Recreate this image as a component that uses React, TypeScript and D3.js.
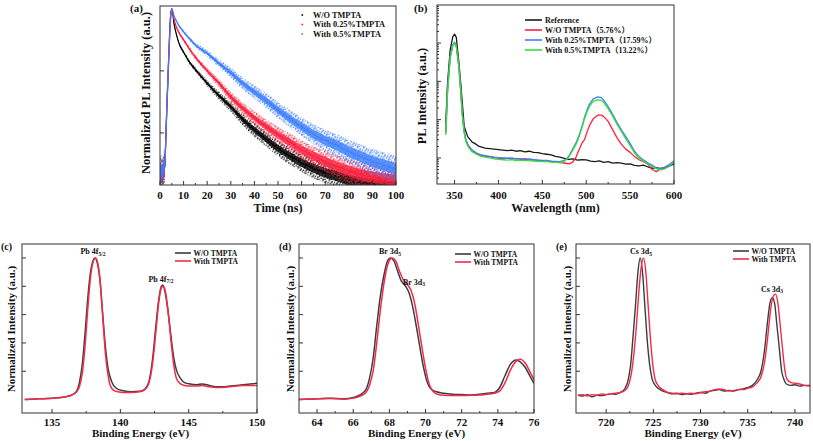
import React from "react";
import * as d3 from "d3";

// ---------------- (a) time-resolved PL decay (normalized) ----------------
const decayTimes = [0, 1, 1.5, 2, 2.3, 2.6, 3, 3.5, 4, 4.5, 5, 6, 7, 8, 10, 12, 15, 20, 25, 30, 35, 40, 45, 50, 55, 60, 65, 70, 75, 80, 85, 90, 95, 100];
const decayWO = [0.00224, 0.002, 0.00251, 0.00282, 0.00501, 0.0112, 0.0316, 0.1, 0.316, 0.759, 1, 0.562, 0.38, 0.282, 0.2, 0.148, 0.105, 0.0631, 0.0398, 0.0263, 0.0166, 0.0112, 0.00794, 0.00562, 0.00427, 0.00331, 0.00269, 0.00229, 0.002, 0.00174, 0.00158, 0.00148, 0.00138, 0.00132];
const decay025 = [0.002, 0.00251, 0.00224, 0.00316, 0.00562, 0.0126, 0.0355, 0.112, 0.355, 0.794, 1, 0.661, 0.501, 0.417, 0.316, 0.24, 0.166, 0.1, 0.0631, 0.038, 0.0251, 0.0174, 0.0126, 0.00933, 0.00708, 0.00537, 0.00427, 0.00347, 0.00288, 0.00245, 0.00214, 0.00195, 0.00182, 0.0017];
const decay05 = [0.00251, 0.00224, 0.00282, 0.00316, 0.00501, 0.0112, 0.0316, 0.1, 0.282, 0.661, 1, 0.759, 0.631, 0.537, 0.427, 0.347, 0.263, 0.191, 0.132, 0.0933, 0.0631, 0.0457, 0.0331, 0.0234, 0.017, 0.0126, 0.00955, 0.00759, 0.00631, 0.00501, 0.00417, 0.00347, 0.00302, 0.00263];
// half-width of the point cloud around each trace, in decades
const decayScatter = [0.25, 0.25, 0.25, 0.22, 0.1, 0.05, 0.04, 0.03, 0.02, 0.015, 0.015, 0.02, 0.02, 0.025, 0.03, 0.035, 0.04, 0.05, 0.065, 0.08, 0.095, 0.11, 0.12, 0.13, 0.14, 0.15, 0.16, 0.17, 0.18, 0.19, 0.195, 0.2, 0.205, 0.21];
const decayLabels = ["W/O TMPTA", "With 0.25%TMPTA", "With 0.5%TMPTA"];
const timeTicks = [0, 10, 20, 30, 40, 50, 60, 70, 80, 90, 100];

// ---------------- (b) PL spectra ----------------
const wlRef = [340, 342, 345, 348, 350, 352, 355, 357, 359.5, 361, 365, 370, 373, 378, 385, 390, 395, 400, 405, 410, 415, 420, 425, 430, 435, 440, 445, 450, 455, 460, 465, 470, 475, 480, 485, 490, 495, 500, 505, 510, 515, 520, 525, 530, 535, 540, 545, 550, 555, 560, 565, 570, 575, 580, 585, 590, 595, 600];
const plRef = [8.0e4, 8.9e5, 6.6e6, 1.47e7, 1.7e7, 1.4e7, 3.0e6, 9e5, 1.79e5, 6.6e4, 3.6e4, 2.6e4, 2.4e4, 2.0e4, 1.8e4, 1.75e4, 1.7e4, 1.65e4, 1.6e4, 1.55e4, 1.6e4, 1.5e4, 1.55e4, 1.45e4, 1.5e4, 1.4e4, 1.38e4, 1.3e4, 1.25e4, 1.2e4, 1.1e4, 1.05e4, 9.8e3, 9.2e3, 9.5e3, 8.8e3, 9.0e3, 8.9e3, 8.3e3, 8.0e3, 8.4e3, 7.7e3, 8.0e3, 7.3e3, 7.6e3, 7.3e3, 6.9e3, 7.0e3, 6.4e3, 6.2e3, 6.5e3, 5.9e3, 5.4e3, 5.6e3, 5.3e3, 5.5e3, 6.2e3, 7.0e3];
const wlS = [340, 342, 345, 348, 350, 352, 355, 357, 359, 361, 363, 366, 370, 375, 380, 385, 390, 395, 400, 405, 410, 415, 420, 425, 430, 435, 440, 445, 450, 455, 460, 465, 470, 475, 480, 484, 488, 491, 495, 498, 501, 504, 508, 512, 514, 517, 520, 525, 530, 535, 540, 545, 550, 555, 560, 565, 570, 575, 580, 585, 590, 595, 600];
const plWO = [4.5e4, 5.8e5, 4.3e6, 8.8e6, 1.02e7, 8.3e6, 2.4e6, 5.8e5, 1.25e5, 4.8e4, 2.8e4, 2.0e4, 1.55e4, 1.3e4, 1.18e4, 1.1e4, 1.08e4, 1.02e4, 1.0e4, 9.7e3, 9.9e3, 9.4e3, 9.6e3, 9.2e3, 9.4e3, 9.0e3, 8.9e3, 8.7e3, 8.5e3, 8.3e3, 8.1e3, 7.9e3, 7.6e3, 7.4e3, 7.0e3, 7.6e3, 1.0e4, 1.5e4, 2.4e4, 3.0e4, 4.8e4, 7.3e4, 1.05e5, 1.25e5, 1.33e5, 1.32e5, 1.2e5, 9.0e4, 5.5e4, 3.4e4, 2.3e4, 1.7e4, 1.4e4, 1.1e4, 9.0e3, 8.0e3, 7.0e3, 5.0e3, 4.4e3, 5.4e3, 5.8e3, 6.5e3, 7.8e3];
const pl025 = [4.8e4, 6e5, 4.5e6, 9.0e6, 1.05e7, 8.5e6, 2.5e6, 6e5, 1.3e5, 5e4, 2.9e4, 2.1e4, 1.6e4, 1.35e4, 1.2e4, 1.15e4, 1.1e4, 1.05e4, 1.02e4, 1.0e4, 9.8e3, 1.0e4, 9.5e3, 9.6e3, 9.3e3, 9.4e3, 9.0e3, 8.8e3, 8.6e3, 8.7e3, 8.3e3, 8.2e3, 8.0e3, 8.6e3, 1.1e4, 1.6e4, 2.4e4, 3.4e4, 6.5e4, 1.15e5, 1.8e5, 2.6e5, 3.5e5, 3.85e5, 3.9e5, 3.75e5, 3.2e5, 2.2e5, 1.4e5, 8.5e4, 5.4e4, 3.6e4, 2.4e4, 1.5e4, 1.1e4, 9.0e3, 7.5e3, 6.5e3, 5.5e3, 5.3e3, 5.8e3, 6.8e3, 8.5e3];
const pl05 = [4.0e4, 5e5, 4.0e6, 8.5e6, 1.0e7, 8.2e6, 2.3e6, 5.5e5, 1.2e5, 4.5e4, 2.6e4, 1.9e4, 1.45e4, 1.25e4, 1.1e4, 1.05e4, 1.0e4, 9.5e3, 9.2e3, 9.0e3, 8.8e3, 9.0e3, 8.6e3, 8.8e3, 8.5e3, 8.6e3, 8.3e3, 8.2e3, 8.0e3, 8.1e3, 7.8e3, 7.7e3, 7.6e3, 8.2e3, 1.05e4, 1.5e4, 2.2e4, 3.1e4, 6.0e4, 1.05e5, 1.6e5, 2.3e5, 3.0e5, 3.25e5, 3.3e5, 3.2e5, 2.8e5, 1.95e5, 1.25e5, 7.6e4, 4.9e4, 3.2e4, 2.1e4, 1.35e4, 1.0e4, 8.3e3, 6.9e3, 6.0e3, 5.2e3, 4.9e3, 5.3e3, 6.2e3, 7.8e3];
const plLabels = ["Reference", "W/O TMPTA（5.76%）", "With 0.25%TMPTA（17.59%）", "With 0.5%TMPTA（13.22%）"];
const wlTicks = [350, 400, 450, 500, 550, 600];

// ---------------- (c) Pb 4f XPS ----------------
const pbE_WO = [133, 134, 135, 136, 136.5, 136.8, 137, 137.2, 137.4, 137.6, 137.8, 138, 138.15, 138.3, 138.5, 138.7, 138.9, 139.1, 139.35, 139.7, 140.2, 140.8, 141.4, 141.8, 142.1, 142.35, 142.6, 142.8, 143, 143.1, 143.25, 143.45, 143.7, 143.9, 144.1, 144.4, 144.7, 145.1, 145.6, 146, 146.5, 147, 147.5, 148, 148.5, 149, 149.5, 150];
const pbI_WO = [0, 0.005, 0.01, 0.02, 0.035, 0.06, 0.12, 0.24, 0.45, 0.7, 0.89, 0.98, 1, 0.97, 0.85, 0.61, 0.38, 0.22, 0.13, 0.08, 0.062, 0.055, 0.058, 0.075, 0.13, 0.28, 0.52, 0.7, 0.8, 0.81, 0.77, 0.65, 0.45, 0.3, 0.21, 0.15, 0.12, 0.11, 0.105, 0.11, 0.1, 0.09, 0.09, 0.095, 0.1, 0.105, 0.11, 0.115];
const pbE_T = [133, 134, 135, 136, 136.5, 136.8, 137, 137.2, 137.4, 137.6, 137.8, 138, 138.2, 138.35, 138.5, 138.7, 138.9, 139.1, 139.3, 139.6, 140.2, 140.8, 141.4, 141.8, 142.1, 142.35, 142.6, 142.8, 143, 143.15, 143.3, 143.5, 143.7, 143.9, 144.1, 144.4, 144.7, 145.1, 145.6, 146, 146.5, 147, 147.5, 148, 148.5, 149, 149.5, 150];
const pbI_T = [0, 0.005, 0.01, 0.02, 0.035, 0.055, 0.09, 0.18, 0.36, 0.62, 0.85, 0.97, 1, 0.96, 0.86, 0.6, 0.33, 0.17, 0.09, 0.06, 0.05, 0.05, 0.055, 0.07, 0.12, 0.25, 0.48, 0.68, 0.79, 0.8, 0.76, 0.62, 0.42, 0.25, 0.15, 0.11, 0.1, 0.095, 0.095, 0.1, 0.09, 0.085, 0.085, 0.09, 0.095, 0.1, 0.1, 0.1];
const pbTicks = [135, 140, 145, 150];

// ---------------- (d) Br 3d XPS ----------------
const brE_WO = [63, 64, 64.7, 65.5, 66, 66.4, 66.7, 66.9, 67.1, 67.3, 67.5, 67.7, 67.9, 68.05, 68.25, 68.45, 68.65, 68.9, 69.1, 69.3, 69.5, 69.7, 69.9, 70.1, 70.3, 70.6, 71, 71.5, 72, 72.5, 73, 73.4, 73.8, 74.1, 74.4, 74.7, 75, 75.2, 75.5, 75.8, 76];
const brI_WO = [0, 0.005, 0.01, 0.005, 0.015, 0.035, 0.07, 0.15, 0.29, 0.52, 0.73, 0.88, 0.98, 1, 0.98, 0.91, 0.84, 0.8, 0.75, 0.65, 0.51, 0.36, 0.22, 0.12, 0.075, 0.055, 0.045, 0.038, 0.035, 0.032, 0.037, 0.045, 0.05, 0.085, 0.17, 0.25, 0.28, 0.27, 0.23, 0.16, 0.115];
const brE_T = [63, 64, 64.7, 65.5, 66, 66.4, 66.7, 66.9, 67.1, 67.3, 67.5, 67.7, 67.9, 68.15, 68.35, 68.55, 68.8, 69, 69.2, 69.4, 69.6, 69.8, 70, 70.2, 70.4, 70.7, 71, 71.5, 72, 72.5, 73, 73.4, 73.8, 74.1, 74.4, 74.7, 75, 75.25, 75.5, 75.8, 76];
const brI_T = [0, 0.005, 0.008, 0.003, 0.01, 0.025, 0.05, 0.1, 0.2, 0.4, 0.63, 0.82, 0.95, 1, 0.98, 0.91, 0.84, 0.81, 0.77, 0.68, 0.53, 0.37, 0.22, 0.11, 0.06, 0.035, 0.03, 0.028, 0.028, 0.03, 0.032, 0.038, 0.045, 0.06, 0.12, 0.21, 0.27, 0.285, 0.26, 0.19, 0.14];
const brTicks = [64, 66, 68, 70, 72, 74, 76];

// ---------------- (e) Cs 3d XPS ----------------
const csE_WO = [717, 717.5, 718, 718.5, 719, 719.5, 720, 720.5, 721, 721.5, 722, 722.3, 722.6, 722.85, 723.1, 723.35, 723.6, 723.85, 724.1, 724.35, 724.6, 724.85, 725.1, 725.5, 726, 726.5, 727, 727.5, 728, 728.5, 729, 729.5, 730, 730.5, 731, 731.5, 732, 732.5, 733, 733.5, 734, 734.5, 735, 735.5, 736, 736.4, 736.8, 737.1, 737.35, 737.6, 737.85, 738.1, 738.35, 738.6, 738.85, 739.1, 739.6, 740, 740.5, 741, 741.6];
const csI_WO = [0.03, 0.025, 0.035, 0.02, 0.03, 0.028, 0.035, 0.04, 0.038, 0.05, 0.08, 0.13, 0.25, 0.45, 0.66, 0.89, 1, 0.9, 0.66, 0.42, 0.25, 0.15, 0.11, 0.08, 0.06, 0.05, 0.04, 0.045, 0.035, 0.04, 0.038, 0.045, 0.05, 0.045, 0.06, 0.065, 0.07, 0.06, 0.065, 0.06, 0.07, 0.075, 0.085, 0.1, 0.14, 0.2, 0.36, 0.55, 0.68, 0.72, 0.68, 0.52, 0.36, 0.2, 0.14, 0.11, 0.1, 0.105, 0.095, 0.1, 0.1];
const csE_T = [717, 717.5, 718, 718.5, 719, 719.5, 720, 720.5, 721, 721.5, 722, 722.3, 722.6, 722.9, 723.2, 723.45, 723.7, 723.95, 724.2, 724.45, 724.7, 724.95, 725.2, 725.5, 726, 726.5, 727, 727.5, 728, 728.5, 729, 729.5, 730, 730.5, 731, 731.5, 732, 732.5, 733, 733.5, 734, 734.5, 735, 735.5, 736, 736.4, 736.8, 737.1, 737.4, 737.7, 737.95, 738.2, 738.45, 738.7, 738.95, 739.2, 739.6, 740, 740.5, 741, 741.6];
const csI_T = [0.03, 0.035, 0.025, 0.035, 0.03, 0.04, 0.035, 0.04, 0.045, 0.05, 0.065, 0.09, 0.16, 0.3, 0.52, 0.75, 0.93, 1, 0.9, 0.66, 0.42, 0.24, 0.14, 0.1, 0.07, 0.05, 0.045, 0.04, 0.045, 0.04, 0.045, 0.04, 0.05, 0.055, 0.06, 0.07, 0.075, 0.07, 0.06, 0.065, 0.07, 0.07, 0.08, 0.09, 0.12, 0.16, 0.27, 0.43, 0.62, 0.73, 0.745, 0.68, 0.52, 0.35, 0.2, 0.14, 0.12, 0.115, 0.11, 0.1, 0.095];
const csTicks = [720, 725, 730, 735, 740];
const xpsLabels = ["W/O TMPTA", "With TMPTA"];
const xpsYTicks = [0.2, 0.4, 0.6, 0.8, 1.0];

// ---------------- styling ----------------
const FONT = '"Liberation Serif", "Times New Roman", "Noto Sans CJK SC", serif';
const INK = "#111";
const FRAME = "#333";
const C_BLACK = "#1a1a1a";
const C_RED = "#ff2040";
const C_BLUE = "#3f7bff";
const C_GREEN = "#33e033";
const X_BLACK = "#3a3d40";
const X_RED = "#f52a48";
const SPECKLE: [number, number][] = [[0, 0], [3, 1], [1, 3], [4.2, 4], [2, 5.1], [5.1, 2.2], [2.4, 2.1], [0.2, 4.9]];

type Box = { x0: number; x1: number; y0: number; y1: number };

function FrameRect({ b }: { b: Box }) {
  return <rect x={b.x0} y={b.y0} width={b.x1 - b.x0} height={b.y1 - b.y0} fill="none" stroke={FRAME} strokeWidth={1} />;
}

function XAxis({ b, x, ticks, minors, labelY, fs }: { b: Box; x: any; ticks: number[]; minors: number[]; labelY: number; fs: number }) {
  return (
    <g>
      {minors.map((t) => (
        <line key={"m" + t} x1={x(t)} x2={x(t)} y1={b.y1} y2={b.y1 - 2} stroke={FRAME} strokeWidth={1} />
      ))}
      {ticks.map((t) => (
        <line key={"t" + t} x1={x(t)} x2={x(t)} y1={b.y1} y2={b.y1 - 4} stroke={FRAME} strokeWidth={1} />
      ))}
      {ticks.map((t) => (
        <text key={"l" + t} x={x(t)} y={labelY} textAnchor="middle" dominantBaseline="central" fontSize={fs} fontWeight="bold" fill={INK}>
          {t}
        </text>
      ))}
    </g>
  );
}

function YTicks({ b, ys, minorYs }: { b: Box; ys: number[]; minorYs: number[] }) {
  return (
    <g>
      {minorYs.map((y, i) => (
        <line key={"m" + i} x1={b.x0} x2={b.x0 + 2} y1={y} y2={y} stroke={FRAME} strokeWidth={1} />
      ))}
      {ys.map((y, i) => (
        <line key={"t" + i} x1={b.x0} x2={b.x0 + 4} y1={y} y2={y} stroke={FRAME} strokeWidth={1} />
      ))}
    </g>
  );
}

function range(a: number, b: number, s: number) {
  const out: number[] = [];
  for (let v = a; v <= b + 1e-9; v += s) out.push(+v.toFixed(4));
  return out;
}

export default function App() {
  // ----- frames -----
  const bA: Box = { x0: 160, x1: 396, y0: 6, y1: 185 };
  const bB: Box = { x0: 437, x1: 674, y0: 5, y1: 184 };
  const bC: Box = { x0: 22, x1: 257, y0: 244, y1: 413 };
  const bD: Box = { x0: 299, x1: 534, y0: 244, y1: 413 };
  const bE: Box = { x0: 576, x1: 810, y0: 244, y1: 413 };

  // ----- scales -----
  const xA = d3.scaleLinear().domain([0, 100]).range([bA.x0, bA.x1]);
  const yA = d3.scaleLog().domain([0.00145, 1.11]).range([bA.y1, bA.y0]);
  const xB = d3.scaleLinear().domain([330, 600]).range([bB.x0, bB.x1]);
  const yB = d3.scaleLog().domain([Math.pow(10, 3.321), Math.pow(10, 7.992)]).range([bB.y1, bB.y0]);
  const xC = d3.scaleLinear().domain([132.8, 150]).range([bC.x0, bC.x1]);
  const xD = d3.scaleLinear().domain([63, 76]).range([bD.x0, bD.x1]);
  const xE = d3.scaleLinear().domain([716.8, 741.6]).range([bE.x0, bE.x1]);
  const yX = d3.scaleLinear().domain([-0.095, 1.099]).range([bC.y1, bC.y0]);

  // ----- (a) traces -----
  type P = { t: number; v: number; s: number };
  const mk = (vals: number[]): P[] => decayTimes.map((t, i) => ({ t, v: vals[i], s: decayScatter[i] }));
  const band = (k: number) =>
    d3
      .area<P>()
      .x((d) => xA(d.t))
      .y0((d) => yA(d.v / Math.pow(10, d.s * k)))
      .y1((d) => yA(d.v * Math.pow(10, d.s * k)))
      .curve(d3.curveMonotoneX);
  const centre = d3
    .line<P>()
    .x((d) => xA(d.t))
    .y((d) => yA(d.v))
    .curve(d3.curveMonotoneX);
  const decaySeries = [
    { pts: mk(decayWO), color: "#000000", pat: "patK" },
    { pts: mk(decay025), color: "#ff1f3d", pat: "patR" },
    { pts: mk(decay05), color: "#3d7eff", pat: "patB" },
  ];

  // ----- (b) traces -----
  const lineB = d3
    .line<[number, number]>()
    .x((d) => xB(d[0]))
    .y((d) => yB(d[1]))
    .curve(d3.curveLinear);
  const plSeries = [
    { x: wlRef, y: plRef, color: C_BLACK },
    { x: wlS, y: plWO, color: C_RED },
    { x: wlS, y: pl025, color: C_BLUE },
    { x: wlS, y: pl05, color: C_GREEN },
  ];
  const bMajors = [1e4, 1e5, 1e6, 1e7];
  const bMinors: number[] = [];
  for (let e = 3; e <= 7; e++) for (let k = 2; k <= 9; k++) {
    const v = k * Math.pow(10, e);
    if (v > yB.domain()[0] && v < yB.domain()[1]) bMinors.push(v);
  }

  // ----- XPS helper -----
  const xpsLine = (x: any, E: number[], I: number[]) =>
    d3
      .line<number>()
      .x((_, i) => x(E[i]))
      .y((d) => yX(d))
      .curve(d3.curveMonotoneX)(I) || "";

  const yTitle = (cx: number, cy: number, txt: string, fs: number) => (
    <text transform={`translate(${cx},${cy}) rotate(-90)`} textAnchor="middle" dominantBaseline="central" fontSize={fs} fontWeight="bold" fill={INK}>
      {txt}
    </text>
  );

  const xpsLegend = (lx: number, ly: number) => (
    <g>
      <line x1={lx} x2={lx + 16} y1={ly} y2={ly} stroke={X_BLACK} strokeWidth={1.6} />
      <text x={lx + 18.5} y={ly} dominantBaseline="central" fontSize={7.5} fontWeight="bold" fill={INK}>{xpsLabels[0]}</text>
      <line x1={lx} x2={lx + 16} y1={ly + 8} y2={ly + 8} stroke={X_RED} strokeWidth={1.6} />
      <text x={lx + 18.5} y={ly + 8} dominantBaseline="central" fontSize={7.5} fontWeight="bold" fill={INK}>{xpsLabels[1]}</text>
    </g>
  );

  const peakLabel = (x: number, y: number, main: string, sub: string) => (
    <text x={x} y={y} textAnchor="middle" fontSize={8} fontWeight="bold" fill={INK}>
      {main}
      <tspan fontSize={5.5} dy={1.8}>{sub}</tspan>
    </text>
  );

  return (
    <svg width={813} height={441} viewBox="0 0 813 441" style={{ position: "absolute", left: 0, top: 0, background: "#fff" }} fontFamily={FONT}>
      <defs>
        <clipPath id="clipA"><rect x={bA.x0} y={bA.y0} width={bA.x1 - bA.x0} height={bA.y1 - bA.y0} /></clipPath>
        <clipPath id="clipB"><rect x={bB.x0} y={bB.y0} width={bB.x1 - bB.x0} height={bB.y1 - bB.y0} /></clipPath>
        <clipPath id="clipC"><rect x={bC.x0} y={bC.y0} width={bC.x1 - bC.x0} height={bC.y1 - bC.y0} /></clipPath>
        <clipPath id="clipD"><rect x={bD.x0} y={bD.y0} width={bD.x1 - bD.x0} height={bD.y1 - bD.y0} /></clipPath>
        <clipPath id="clipE"><rect x={bE.x0} y={bE.y0} width={bE.x1 - bE.x0} height={bE.y1 - bE.y0} /></clipPath>
        {decaySeries.map((s, k) => (
          <pattern key={s.pat} id={s.pat} width={6.2} height={6.2} x={k * 1.7} y={k * 2.3} patternUnits="userSpaceOnUse">
            {SPECKLE.map(([px, py], j) => (
              <rect key={j} x={px} y={py} width={1.3} height={1.3} fill={s.color} />
            ))}
          </pattern>
        ))}
      </defs>
      <rect x={0} y={0} width={813} height={441} fill="#fff" />

      {/* ================= (a) ================= */}
      <g clipPath="url(#clipA)">
        {decaySeries.map((s, i) => (
          <g key={i}>
            <path d={band(1)(s.pts) || ""} fill={`url(#${s.pat})`} stroke="none" />
            <path d={band(0.45)(s.pts) || ""} fill={s.color} fillOpacity={0.8} stroke="none" />
            <path d={centre(s.pts) || ""} fill="none" stroke={s.color} strokeWidth={1.2} />
          </g>
        ))}
      </g>
      <FrameRect b={bA} />
      <XAxis b={bA} x={xA} ticks={timeTicks} minors={range(5, 95, 10)} labelY={194.5} fs={11} />
      <YTicks b={bA} ys={[0.1, 0.01].map((v) => yA(v))} minorYs={[]} />
      {yTitle(146, 93, "Normalized PL Intensity (a.u.)", 12.5)}
      <text x={xA(50)} y={207.5} textAnchor="middle" dominantBaseline="central" fontSize={12} fontWeight="bold" fill={INK}>Time (ns)</text>
      <text x={130} y={12} fontSize={11} fontWeight="bold" fill={INK}>(a)</text>
      {decaySeries.map((s, i) => (
        <g key={"lg" + i}>
          <rect x={301.5} y={15 + i * 9.5 - 0.8} width={1.6} height={1.6} fill={s.color} />
          <text x={313} y={15 + i * 9.5} dominantBaseline="central" fontSize={8.3} fontWeight="bold" fill={INK}>{decayLabels[i]}</text>
        </g>
      ))}

      {/* ================= (b) ================= */}
      <g clipPath="url(#clipB)">
        {plSeries.map((s, i) => (
          <path key={i} d={lineB(s.x.map((w, j) => [w, s.y[j]] as [number, number])) || ""} fill="none" stroke={s.color} strokeWidth={1.3} strokeLinejoin="round" />
        ))}
      </g>
      <FrameRect b={bB} />
      <XAxis b={bB} x={xB} ticks={wlTicks} minors={range(375, 575, 50)} labelY={194.5} fs={11} />
      <YTicks b={bB} ys={bMajors.map((v) => yB(v))} minorYs={bMinors.map((v) => yB(v))} />
      {yTitle(422, 96, "PL Intensity (a.u.)", 12.5)}
      <text x={xB(465)} y={207.5} textAnchor="middle" dominantBaseline="central" fontSize={12} fontWeight="bold" fill={INK}>Wavelength (nm)</text>
      <text x={414} y={12} fontSize={11} fontWeight="bold" fill={INK}>(b)</text>
      {plSeries.map((s, i) => (
        <g key={"lb" + i}>
          <line x1={525} x2={542} y1={20 + i * 10} y2={20 + i * 10} stroke={s.color} strokeWidth={1.6} />
          <text x={545} y={20 + i * 10} dominantBaseline="central" fontSize={8} fontWeight="bold" fill={INK}>{plLabels[i]}</text>
        </g>
      ))}

      {/* ================= (c) ================= */}
      <g clipPath="url(#clipC)">
        <path d={xpsLine(xC, pbE_WO, pbI_WO)} fill="none" stroke={X_BLACK} strokeWidth={1.5} />
        <path d={xpsLine(xC, pbE_T, pbI_T)} fill="none" stroke={X_RED} strokeWidth={1.5} />
      </g>
      <FrameRect b={bC} />
      <XAxis b={bC} x={xC} ticks={pbTicks} minors={range(137.5, 147.5, 5)} labelY={422} fs={11} />
      <YTicks b={bC} ys={xpsYTicks.map((v) => yX(v))} minorYs={[]} />
      {yTitle(11, 329, "Normalized Intensity (a.u.)", 11)}
      <text x={(bC.x0 + bC.x1) / 2 + 1} y={432.5} textAnchor="middle" dominantBaseline="central" fontSize={11} fontWeight="bold" fill={INK}>Binding Energy (eV)</text>
      <text x={1} y={250} fontSize={10} fontWeight="bold" fill={INK}>(c)</text>
      {peakLabel(93, 254, "Pb 4f", "5/2")}
      {peakLabel(161, 281.5, "Pb 4f", "7/2")}
      {xpsLegend(175, 253)}

      {/* ================= (d) ================= */}
      <g clipPath="url(#clipD)">
        <path d={xpsLine(xD, brE_WO, brI_WO)} fill="none" stroke={X_BLACK} strokeWidth={1.5} />
        <path d={xpsLine(xD, brE_T, brI_T)} fill="none" stroke={X_RED} strokeWidth={1.5} />
      </g>
      <FrameRect b={bD} />
      <XAxis b={bD} x={xD} ticks={brTicks} minors={range(65, 75, 2)} labelY={422} fs={11} />
      <YTicks b={bD} ys={xpsYTicks.map((v) => yX(v))} minorYs={[]} />
      {yTitle(289.5, 329, "Normalized Intensity (a.u.)", 11)}
      <text x={(bD.x0 + bD.x1) / 2} y={432.5} textAnchor="middle" dominantBaseline="central" fontSize={11} fontWeight="bold" fill={INK}>Binding Energy (eV)</text>
      <text x={279} y={250} fontSize={10} fontWeight="bold" fill={INK}>(d)</text>
      {peakLabel(390, 254, "Br 3d", "5")}
      {peakLabel(414, 284.5, "Br 3d", "3")}
      {xpsLegend(455, 254)}

      {/* ================= (e) ================= */}
      <g clipPath="url(#clipE)">
        <path d={xpsLine(xE, csE_WO, csI_WO)} fill="none" stroke={X_BLACK} strokeWidth={1.4} />
        <path d={xpsLine(xE, csE_T, csI_T)} fill="none" stroke={X_RED} strokeWidth={1.4} />
      </g>
      <FrameRect b={bE} />
      <XAxis b={bE} x={xE} ticks={csTicks} minors={range(722.5, 737.5, 5)} labelY={422} fs={11} />
      <YTicks b={bE} ys={xpsYTicks.map((v) => yX(v))} minorYs={[]} />
      {yTitle(566.5, 329, "Normalized Intensity (a.u.)", 11)}
      <text x={(bE.x0 + bE.x1) / 2} y={432.5} textAnchor="middle" dominantBaseline="central" fontSize={11} fontWeight="bold" fill={INK}>Binding Energy (eV)</text>
      <text x={556} y={250} fontSize={10} fontWeight="bold" fill={INK}>(e)</text>
      {peakLabel(641, 254, "Cs 3d", "5")}
      {peakLabel(772, 291.5, "Cs 3d", "3")}
      {xpsLegend(733, 251)}
    </svg>
  );
}
